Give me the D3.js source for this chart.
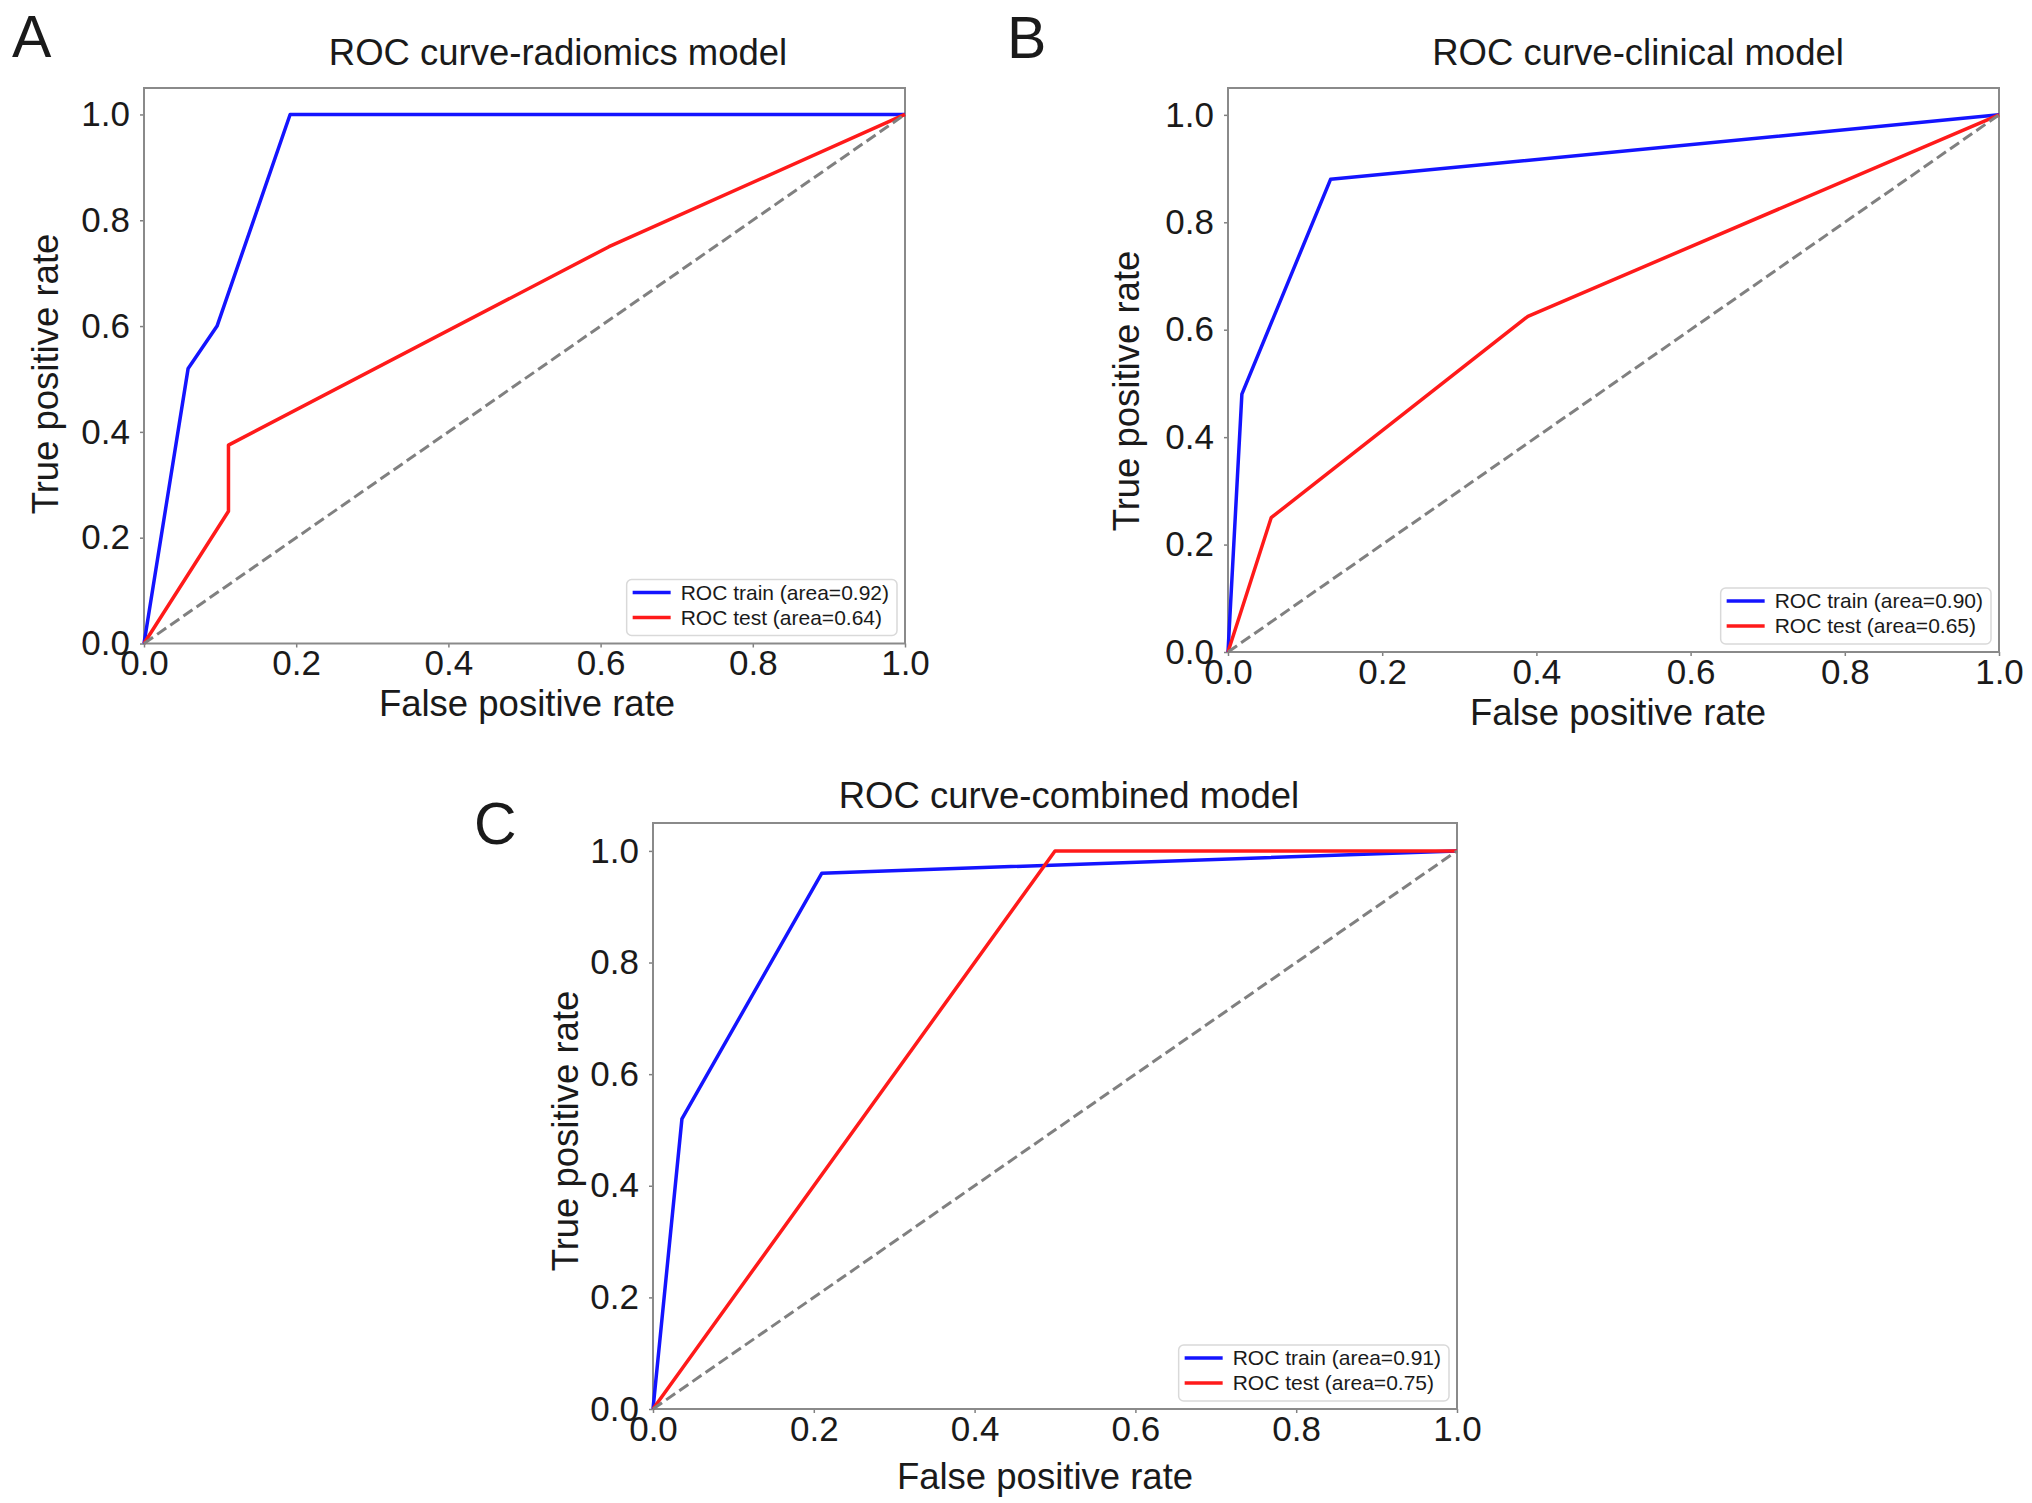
<!DOCTYPE html>
<html>
<head>
<meta charset="utf-8">
<script src="https://cdn.jsdelivr.net/npm/d3@7"></script>
<style>
  body { margin: 0; background: #fff; }
  text { font-family: "Liberation Sans", Arial, Helvetica, sans-serif; fill: #1a1a1a; }
</style>
</head>
<body>
<svg id="fig" width="2032" height="1503"></svg>
<script>
"use strict";

// ---- data ----
const tickValues = [0, 0.2, 0.4, 0.6, 0.8, 1.0];
const panelLetters = ["A", "B", "C"];
const panelTitles = ["ROC curve-radiomics model", "ROC curve-clinical model", "ROC curve-combined model"];
const seriesNames = ["ROC train", "ROC test"];

const radiomicsArea = [0.92, 0.64];
const radiomicsTrainFpr = [0, 0.058, 0.096, 0.192, 1];
const radiomicsTrainTpr = [0, 0.52, 0.60, 1.0, 1.0];
const radiomicsTestFpr = [0, 0.111, 0.111, 0.611, 1];
const radiomicsTestTpr = [0, 0.25, 0.375, 0.75, 1.0];

const clinicalArea = [0.90, 0.65];
const clinicalTrainFpr = [0, 0.018, 0.133, 1];
const clinicalTrainTpr = [0, 0.48, 0.88, 1.0];
const clinicalTestFpr = [0, 0.056, 0.389, 1];
const clinicalTestTpr = [0, 0.25, 0.625, 1.0];

const combinedArea = [0.91, 0.75];
const combinedTrainFpr = [0, 0.036, 0.21, 1];
const combinedTrainTpr = [0, 0.52, 0.96, 1.0];
const combinedTestFpr = [0, 0.5, 1];
const combinedTestTpr = [0, 1.0, 1.0];

const chanceFpr = [0, 1];
const chanceTpr = [0, 1];

// ---- layout (pixels) ----
const layouts = [
    {left: 144, right: 905, top: 88, bottom: 643.5,
     title: [558, 65], letter: [12, 57], ylabel: [58, 374], xlabel: [527, 716]},
    {left: 1228, right: 1999, top: 88, bottom: 652,
     title: [1638, 65], letter: [1007, 58], ylabel: [1139, 391], xlabel: [1618, 725]},
    {left: 653, right: 1457, top: 823, bottom: 1409,
     title: [1069, 808], letter: [474, 844], ylabel: [578, 1131], xlabel: [1045, 1489]}
];

const zip = (a, b) => a.map((v, i) => [v, b[i]]);

const panels = [
    {areas: radiomicsArea,
     train: zip(radiomicsTrainFpr, radiomicsTrainTpr),
     test: zip(radiomicsTestFpr, radiomicsTestTpr)},
    {areas: clinicalArea,
     train: zip(clinicalTrainFpr, clinicalTrainTpr),
     test: zip(clinicalTestFpr, clinicalTestTpr)},
    {areas: combinedArea,
     train: zip(combinedTrainFpr, combinedTrainTpr),
     test: zip(combinedTestFpr, combinedTestTpr)}
];

const colors = ["#1414ff", "#ff1a1a"];
const tickFont = 35,
    labelFont = 36.5;

const svg = d3.select("#fig");
svg.append("rect").attr("width", 2032).attr("height", 1503).attr("fill", "#fff");

/**
 * Draws one ROC panel
 */
function makeRocChart(panel, lay, idx) {
    const x = d3.scaleLinear().domain([0, 1]).range([lay.left, lay.right]),
        y = d3.scaleLinear().domain([0, 1.05]).range([lay.bottom, lay.top]),
        g = svg.append("g").attr("class", "panel");

    // x axis
    const gx = g.append("g")
        .attr("transform", `translate(0,${lay.bottom})`)
        .call(d3.axisBottom(x).tickValues(tickValues).tickFormat(d3.format(".1f"))
            .tickSize(4).tickPadding(3));
    // y axis
    const gy = g.append("g")
        .attr("transform", `translate(${lay.left},0)`)
        .call(d3.axisLeft(y).tickValues(tickValues).tickFormat(d3.format(".1f"))
            .tickSize(4).tickPadding(10));

    [gx, gy].forEach(a => {
        a.attr("font-size", null).attr("font-family", null);
        a.select(".domain").remove();
        a.selectAll(".tick line").attr("stroke", "#808080").attr("stroke-width", 1.5);
        a.selectAll(".tick text").attr("font-size", tickFont).attr("fill", "#1a1a1a");
    });

    // frame
    g.append("rect")
        .attr("x", lay.left).attr("y", lay.top)
        .attr("width", lay.right - lay.left).attr("height", lay.bottom - lay.top)
        .attr("fill", "none").attr("stroke", "#8a8a8a").attr("stroke-width", 2);

    const line = d3.line().x(d => x(d[0])).y(d => y(d[1]));

    [panel.train, panel.test].forEach((s, i) => {
        g.append("path")
            .datum(s)
            .attr("d", line)
            .attr("fill", "none")
            .attr("stroke", colors[i])
            .attr("stroke-width", 3.5)
            .attr("stroke-linejoin", "round");
    });

    g.append("path")
        .datum(zip(chanceFpr, chanceTpr))
        .attr("d", line)
        .attr("fill", "none")
        .attr("stroke", "#808080")
        .attr("stroke-width", 3)
        .attr("stroke-dasharray", "11,5");

    // titles and labels
    g.append("text").attr("x", lay.title[0]).attr("y", lay.title[1])
        .attr("text-anchor", "middle").attr("font-size", labelFont)
        .text(panelTitles[idx]);
    g.append("text").attr("x", lay.letter[0]).attr("y", lay.letter[1])
        .attr("font-size", 59).attr("fill", "#000")
        .text(panelLetters[idx]);
    g.append("text").attr("x", lay.xlabel[0]).attr("y", lay.xlabel[1])
        .attr("text-anchor", "middle").attr("font-size", labelFont)
        .text("False positive rate");
    g.append("text")
        .attr("transform", `translate(${lay.ylabel[0]},${lay.ylabel[1]}) rotate(-90)`)
        .attr("text-anchor", "middle").attr("font-size", labelFont)
        .text("True positive rate");

    // legend (lower right)
    const leg = g.append("g");
    const box = leg.append("rect").attr("rx", 5)
        .attr("fill", "#fff").attr("fill-opacity", 0.85)
        .attr("stroke", "#d9d9d9").attr("stroke-width", 1.5);
    let maxW = 0;
    seriesNames.forEach((name, i) => {
        const cy = 13 + i * 25;
        leg.append("line")
            .attr("x1", 6).attr("x2", 44).attr("y1", cy).attr("y2", cy)
            .attr("stroke", colors[i]).attr("stroke-width", 3.5);
        const t = leg.append("text")
            .attr("x", 54).attr("y", cy + 7)
            .attr("font-size", 21).attr("fill", "#222")
            .text(`${name} (area=${panel.areas[i].toFixed(2)})`);
        maxW = Math.max(maxW, t.node().getComputedTextLength());
    });
    const bw = 54 + maxW + 8, bh = 56;
    box.attr("width", bw).attr("height", bh);
    leg.attr("transform", `translate(${lay.right - 8 - bw},${lay.bottom - 8 - bh})`);
}

panels.forEach((p, i) => makeRocChart(p, layouts[i], i));
</script>
</body>
</html>
